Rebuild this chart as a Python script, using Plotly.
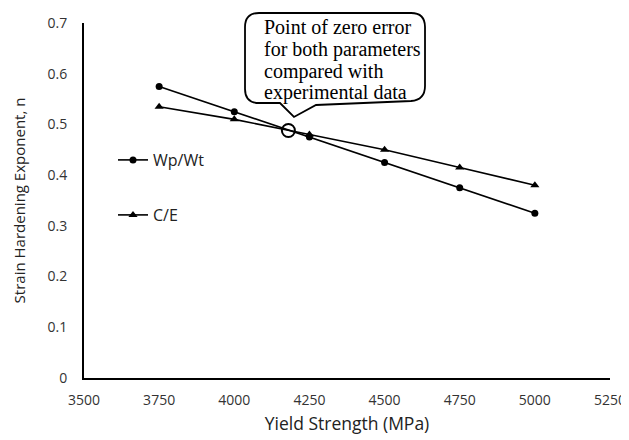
import plotly.graph_objects as go

yield_strength = [3750, 4000, 4250, 4500, 4750, 5000]
wp_wt = [0.575, 0.525, 0.475, 0.425, 0.375, 0.325]
c_e = [0.535, 0.51, 0.48, 0.45, 0.415, 0.38]
zero_err_x = [4180]
zero_err_y = [0.488]
x_ticks = [3500, 3750, 4000, 4250, 4500, 4750, 5000, 5250]
y_ticks = [0, 0.1, 0.2, 0.3, 0.4, 0.5, 0.6, 0.7]
y_tick_text = ["0", "0.1", "0.2", "0.3", "0.4", "0.5", "0.6", "0.7"]
callout_lines = ["Point of zero error", "for both parameters", "compared with", "experimental data"]

OFF = 8  # page body margin
W, H = 629 - OFF, 440 - OFF
PL, PR, PT, PB = 84, 610, 23, 378  # plot area in screen pixels
L, R, T, B = PL - OFF, 629 - PR, PT - OFF, 440 - PB
pw, ph = PR - PL, PB - PT

def px(x):
    return (x - PL) / pw

def py(y):
    return (PB - y) / ph

fig = go.Figure()
fig.add_trace(go.Scatter(x=yield_strength, y=wp_wt, name="Wp/Wt", mode="lines+markers",
                         line=dict(color="black", width=1.6),
                         marker=dict(symbol="circle", size=7, color="black"),
                         legend="legend"))
fig.add_trace(go.Scatter(x=yield_strength, y=c_e, name="C/E", mode="lines+markers",
                         line=dict(color="black", width=1.6),
                         marker=dict(symbol="triangle-up", size=8, color="black"),
                         legend="legend2"))
fig.add_trace(go.Scatter(x=zero_err_x, y=zero_err_y, mode="markers", showlegend=False,
                         marker=dict(symbol="circle-open", size=13, color="black",
                                     line=dict(width=2, color="black"))))

# callout bubble (screen pixel positions converted to paper coordinates)
x0, x1, y0, y1, r = 245, 425, 13, 103, 14
def P(x, y):
    return f"{px(x):.4f},{py(y):.4f}"
path = (f"M {P(x0 + r, y0)} L {P(x1 - r, y0)} Q {P(x1, y0)} {P(x1, y0 + r)} "
        f"L {P(x1, y1 - r - 3)} Q {P(x1, y1 - 3)} {P(x1 - r, y1 - 2)} "
        f"L {P(316, y1 + 2)} L {P(294, 117)} L {P(280, y1)} "
        f"L {P(x0 + r, y1)} Q {P(x0, y1)} {P(x0, y1 - r)} "
        f"L {P(x0, y0 + r)} Q {P(x0, y0)} {P(x0 + r, y0)} Z")
fig.add_shape(type="path", path=path, xref="paper", yref="paper",
              line=dict(color="black", width=1.8), fillcolor="white", layer="above")

for i, line in enumerate(callout_lines):
    fig.add_annotation(x=px(262), y=py(27 + 22 * i), xref="paper", yref="paper",
                       text=line, showarrow=False, xanchor="left", yanchor="middle",
                       align="left",
                       font=dict(family="Liberation Serif", size=20, color="black"))

fig.update_layout(
    width=W, height=H,
    margin=dict(l=L, r=R, t=T, b=B),
    paper_bgcolor="white", plot_bgcolor="white",
    font=dict(family="Open Sans", size=14, color="#333333"),
    xaxis=dict(range=[3500, 5250], tickvals=x_ticks, ticktext=[str(v) for v in x_ticks],
               showgrid=False, zeroline=False, showline=True, linecolor="black", linewidth=2,
               ticks="outside", ticklen=8, tickcolor="rgba(0,0,0,0)", automargin=False,
               title=dict(text="Yield Strength (MPa)", font=dict(size=17.5, color="#222222"), standoff=10),
               tickfont=dict(size=14, color="#333333")),
    yaxis=dict(range=[0, 0.7], tickvals=y_ticks, ticktext=y_tick_text,
               showgrid=False, zeroline=False, showline=True, linecolor="black", linewidth=2,
               ticks="outside", ticklen=12, tickcolor="rgba(0,0,0,0)", automargin=False,
               title=dict(text="Strain Hardening Exponent, n", font=dict(size=15, color="#222222"), standoff=18),
               tickfont=dict(size=14, color="#333333")),
    legend=dict(x=px(113), y=py(160), xanchor="left", yanchor="middle",
                bgcolor="rgba(0,0,0,0)", font=dict(size=16, color="#222222"), itemwidth=30),
    legend2=dict(x=px(113), y=py(215), xanchor="left", yanchor="middle",
                 bgcolor="rgba(0,0,0,0)", font=dict(size=16, color="#222222"), itemwidth=30),
    showlegend=True,
)

fig.write_html("out.html")
